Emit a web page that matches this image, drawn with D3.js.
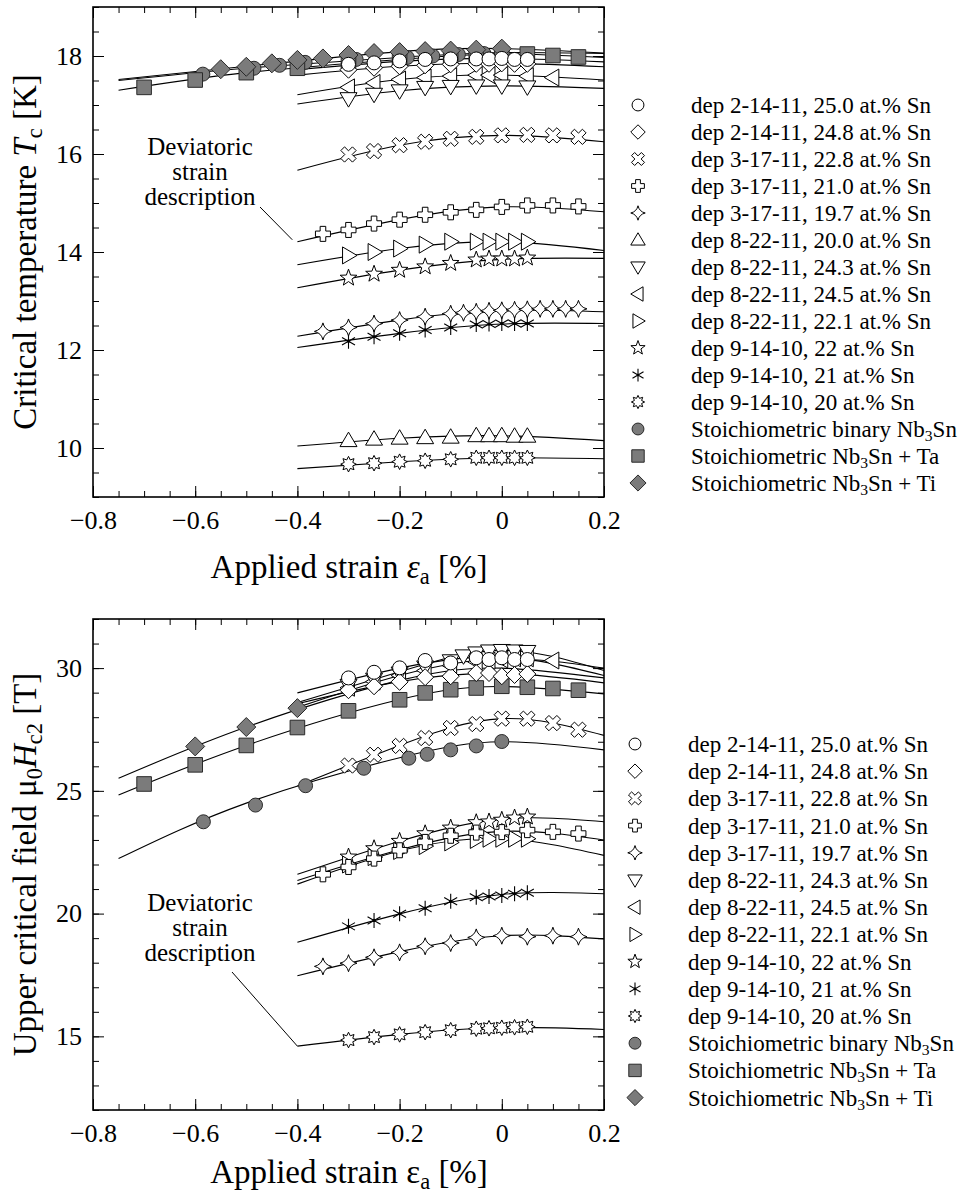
<!DOCTYPE html>
<html>
<head>
<meta charset="utf-8">
<script src="https://cdn.jsdelivr.net/npm/d3@7"></script>
<style>
  body { margin: 0; background: #fff; }
  svg text { font-family: "Liberation Serif", "Times New Roman", serif; fill: #000; }
</style>
</head>
<body>
<div id="chart"></div>
<script>
// ---- tick values ----
var xMajor = [-0.8, -0.6, -0.4, -0.2, 0, 0.2];
var tcMajor = [10, 12, 14, 16, 18];
var hcMajor = [15, 20, 25, 30];

// ---- legend ----
var labels = [
  'dep 2-14-11, 25.0 at.% Sn', 'dep 2-14-11, 24.8 at.% Sn', 'dep 3-17-11, 22.8 at.% Sn',
  'dep 3-17-11, 21.0 at.% Sn', 'dep 3-17-11, 19.7 at.% Sn', 'dep 8-22-11, 20.0 at.% Sn',
  'dep 8-22-11, 24.3 at.% Sn', 'dep 8-22-11, 24.5 at.% Sn', 'dep 8-22-11, 22.1 at.% Sn',
  'dep 9-14-10, 22 at.% Sn', 'dep 9-14-10, 21 at.% Sn', 'dep 9-14-10, 20 at.% Sn',
  'Stoichiometric binary Nb|3|Sn', 'Stoichiometric Nb|3|Sn + Ta', 'Stoichiometric Nb|3|Sn + Ti'
];
var markers = ['circle', 'diamond', 'xcross', 'plus', 'star4', 'triUp', 'triDown', 'triLeft',
  'triRight', 'star5', 'asterisk', 'star8', 'gCircle', 'gSquare', 'gDiamond'];

// ---- strain grids ----
var gridA = [-0.3, -0.25, -0.2, -0.15, -0.1, -0.05, -0.025, 0, 0.025, 0.05];
var gridB = [-0.3, -0.25, -0.2, -0.15, -0.1, -0.05, 0, 0.05, 0.1, 0.15];
var gridC = [-0.35, -0.3, -0.25, -0.2, -0.15, -0.1, -0.05, 0, 0.05, 0.1, 0.15];
var gridD = [-0.35, -0.3, -0.25, -0.2, -0.15, -0.1, -0.075, -0.05, -0.025, 0, 0.025, 0.05, 0.075, 0.1, 0.125, 0.15];
var fitX = [-0.4, -0.2, 0, 0.2];
var fitXs = [-0.75, -0.5, -0.2, 0, 0.2];

// ---- Tc panel (K) ----
var tc250 = [17.83, 17.86, 17.90, 17.93, 17.94, 17.94, 17.94, 17.95, 17.93, 17.93];
var tc248 = [17.72, 17.76, 17.79, 17.81, 17.83, 17.84, 17.84, 17.85, 17.84, 17.84];
var tc228 = [15.99, 16.06, 16.18, 16.25, 16.31, 16.35, 16.38, 16.39, 16.38, 16.35];
var tc210 = [14.37, 14.45, 14.58, 14.66, 14.76, 14.81, 14.86, 14.92, 14.95, 14.95, 14.93];
var tc197 = [12.38, 12.46, 12.54, 12.61, 12.68, 12.74, 12.76, 12.78, 12.80, 12.81, 12.82, 12.83, 12.84, 12.84, 12.84, 12.84];
var tc200 = [10.15, 10.18, 10.20, 10.21, 10.22, 10.25, 10.25, 10.25, 10.24, 10.24];
var tc243x = [-0.3, -0.25, -0.2, -0.15, -0.1, -0.05, 0, 0.05];
var tc243 = [17.13, 17.22, 17.29, 17.36, 17.38, 17.39, 17.39, 17.37];
var tc245x = [-0.3, -0.25, -0.2, -0.15, -0.1, -0.05, -0.025, 0, 0.05, 0.1];
var tc245 = [17.36, 17.45, 17.52, 17.56, 17.59, 17.61, 17.61, 17.61, 17.59, 17.56];
var tc221 = [13.93, 14.00, 14.07, 14.15, 14.21, 14.21, 14.21, 14.21, 14.21, 14.21];
var tc22 = [13.47, 13.55, 13.63, 13.70, 13.77, 13.84, 13.86, 13.86, 13.86, 13.88];
var tc21 = [12.18, 12.27, 12.34, 12.41, 12.46, 12.52, 12.53, 12.54, 12.54, 12.54];
var tc20 = [9.67, 9.69, 9.72, 9.74, 9.77, 9.80, 9.80, 9.80, 9.80, 9.80];
var tcBinX = [-0.585, -0.485, -0.435, -0.385, -0.285, -0.185, -0.135, -0.085, -0.035, 0];
var tcBin = [17.63, 17.75, 17.81, 17.87, 17.93, 17.97, 18.00, 18.03, 18.05, 18.09];
var tcTaX = [-0.7, -0.6, -0.5, -0.4, -0.3, -0.2, -0.1, -0.05, 0, 0.05, 0.1, 0.15];
var tcTa = [17.36, 17.51, 17.66, 17.75, 17.85, 17.93, 17.99, 18.02, 18.04, 18.04, 18.01, 17.98];
var tcTiX = [-0.55, -0.5, -0.45, -0.4, -0.35, -0.3, -0.25, -0.2, -0.15, -0.1, -0.05, 0];
var tcTi = [17.73, 17.78, 17.85, 17.92, 17.95, 18.02, 18.06, 18.08, 18.10, 18.11, 18.13, 18.15];

// fitted deviatoric strain curves (Tc)
var tcFit = [
  [17.72, 17.89, 17.95, 17.88], [17.61, 17.79, 17.85, 17.78], [15.67, 16.18, 16.38, 16.25],
  [14.21, 14.66, 14.92, 14.82], [12.28, 12.61, 12.81, 12.78], [10.04, 10.20, 10.25, 10.15],
  [17.02, 17.29, 17.39, 17.34], [17.21, 17.52, 17.61, 17.51], [13.74, 14.07, 14.21, 14.03],
  [13.27, 13.63, 13.85, 13.87], [12.05, 12.34, 12.53, 12.54], [9.58, 9.72, 9.80, 9.78],
  [17.50, 17.75, 17.97, 18.07, 18.05], [17.30, 17.66, 17.93, 18.04, 17.97], [17.52, 17.79, 18.09, 18.15, 18.06]
];

// ---- Hc2 panel (T) ----
var hc250 = [29.60, 29.83, 30.01, 30.31, 30.21, 30.42, 30.35, 30.42, 30.35, 30.35];
var hc248 = [29.10, 29.26, 29.44, 29.63, 29.67, 29.80, 29.80, 29.67, 29.72, 29.76];
var hc228 = [26.03, 26.47, 26.83, 27.15, 27.56, 27.72, 27.94, 27.94, 27.76, 27.49];
var hc210 = [21.60, 21.90, 22.24, 22.58, 22.92, 23.17, 23.30, 23.32, 23.40, 23.33, 23.26];
var hc197 = [17.85, 17.98, 18.22, 18.42, 18.67, 18.80, 19.03, 19.10, 19.06, 19.10, 19.06];
var hc243x = [-0.3, -0.25, -0.2, -0.15, -0.1, -0.075, -0.05, -0.025, 0, 0.025, 0.05];
var hc243 = [29.30, 29.55, 29.80, 30.05, 30.30, 30.50, 30.62, 30.70, 30.72, 30.70, 30.68];
var hc245x = [-0.3, -0.25, -0.2, -0.15, -0.1, -0.05, -0.025, 0, 0.025, 0.05, 0.1];
var hc245 = [29.20, 29.45, 29.70, 29.90, 30.10, 30.25, 30.30, 30.35, 30.40, 30.40, 30.31];
var hc221 = [22.00, 22.30, 22.55, 22.75, 22.90, 23.00, 23.05, 23.05, 23.05, 23.05];
var hc22 = [22.31, 22.65, 22.95, 23.26, 23.49, 23.71, 23.74, 23.81, 23.90, 23.94];
var hc21 = [19.48, 19.72, 19.99, 20.22, 20.50, 20.67, 20.70, 20.74, 20.81, 20.85];
var hc20 = [14.85, 14.97, 15.08, 15.17, 15.25, 15.31, 15.33, 15.35, 15.37, 15.39];
var hcBinX = [-0.584, -0.482, -0.384, -0.27, -0.182, -0.146, -0.1, -0.05, 0];
var hcBin = [23.74, 24.42, 25.21, 25.92, 26.33, 26.49, 26.67, 26.83, 27.01];
var hcTaX = [-0.7, -0.6, -0.5, -0.4, -0.3, -0.2, -0.15, -0.1, -0.05, 0, 0.05, 0.1, 0.15];
var hcTa = [25.28, 26.06, 26.85, 27.58, 28.26, 28.71, 28.99, 29.12, 29.19, 29.26, 29.22, 29.17, 29.10];
var hcTiX = [-0.6, -0.5, -0.4];
var hcTi = [26.81, 27.60, 28.37];

// fitted deviatoric strain curves (Hc2); index matches legend order
var hcFit = [
  [28.99, 30.00, 30.45, 29.70], [28.55, 29.45, 29.78, 29.40], [25.20, 26.85, 27.94, 27.26],
  [21.35, 22.60, 23.35, 23.00], [17.47, 18.45, 19.10, 18.97], null,
  [28.60, 29.85, 30.72, 29.90], [28.40, 29.70, 30.38, 30.00], [21.20, 22.55, 23.05, 22.37],
  [21.60, 22.95, 23.85, 23.74], [18.83, 19.99, 20.78, 20.81], [14.60, 15.08, 15.36, 15.28],
  [22.24, 24.50, 26.35, 27.00, 26.67], [24.83, 26.85, 28.72, 29.25, 28.95], [25.51, 27.60, 29.50, 30.00, 29.60]
];

var tcX = [gridA, gridA, gridB, gridC, gridD, gridA, tc243x, tc245x, gridA, gridA, gridA, gridA, tcBinX, tcTaX, tcTiX];
var tcY = [tc250, tc248, tc228, tc210, tc197, tc200, tc243, tc245, tc221, tc22, tc21, tc20, tcBin, tcTa, tcTi];
var hcX = [gridA, gridA, gridB, gridC, gridC, null, hc243x, hc245x, gridA, gridA, gridA, gridA, hcBinX, hcTaX, hcTiX];
var hcY = [hc250, hc248, hc228, hc210, hc197, null, hc243, hc245, hc221, hc22, hc21, hc20, hcBin, hcTa, hcTi];

// ---- marker shapes ----
function poly(pts) {
  return 'M' + pts.map(function (p) { return p[0].toFixed(2) + ',' + p[1].toFixed(2); }).join('L') + 'Z';
}
function circ(r) {
  return 'M' + r + ',0A' + r + ',' + r + ' 0 1,1 ' + (-r) + ',0A' + r + ',' + r + ' 0 1,1 ' + r + ',0Z';
}
function starPts(n, ro, ri, rot) {
  var pts = [];
  for (var i = 0; i < 2 * n; i++) {
    var a = rot + i * Math.PI / n;
    var r = i % 2 ? ri : ro;
    pts.push([r * Math.sin(a), -r * Math.cos(a)]);
  }
  return pts;
}
function plusPts(s, a, rot) {
  var p = [[-a, -s], [a, -s], [a, -a], [s, -a], [s, a], [a, a], [a, s], [-a, s], [-a, a], [-s, a], [-s, -a], [-a, -a]];
  var c = Math.cos(rot), sn = Math.sin(rot);
  return p.map(function (q) { return [q[0] * c - q[1] * sn, q[0] * sn + q[1] * c]; });
}
function shape(kind, k) {
  switch (kind) {
    case 'circle': case 'gCircle': return circ(7 * k);
    case 'diamond': var d = 8.5 * k; return poly([[0, -d], [d, 0], [0, d], [-d, 0]]);
    case 'gDiamond': var g = 9.5 * k; return poly([[0, -g], [g, 0], [0, g], [-g, 0]]);
    case 'gSquare': var q = 7.3 * k; return poly([[-q, -q], [q, -q], [q, q], [-q, q]]);
    case 'xcross': return poly(plusPts(8.2 * k, 2.6 * k, Math.PI / 4));
    case 'plus': return poly(plusPts(7.5 * k, 2.8 * k, 0));
    case 'star4':
      var s4 = 8.5 * k, c4 = 1.6 * k;
      return 'M0,' + (-s4) + 'Q' + c4 + ',' + (-c4) + ' ' + s4 + ',0Q' + c4 + ',' + c4 + ' 0,' + s4 +
        'Q' + (-c4) + ',' + c4 + ' ' + (-s4) + ',0Q' + (-c4) + ',' + (-c4) + ' 0,' + (-s4) + 'Z';
    case 'triUp': var t = 8.5 * k; return poly([[0, -t], [t, t * 0.7], [-t, t * 0.7]]);
    case 'triDown': var t2 = 8.5 * k; return poly([[0, t2], [t2, -t2 * 0.7], [-t2, -t2 * 0.7]]);
    case 'triLeft': var t3 = 8.5 * k; return poly([[-t3, 0], [t3 * 0.7, -t3], [t3 * 0.7, t3]]);
    case 'triRight': var t4 = 8.5 * k; return poly([[t4, 0], [-t4 * 0.7, -t4], [-t4 * 0.7, t4]]);
    case 'star5': return poly(starPts(5, 8.8 * k, 3.6 * k, 0));
    case 'star8': return poly(starPts(8, 7.8 * k, 4.6 * k, 0));
    case 'asterisk':
      var r = 7.5 * k, dx = r * Math.sin(Math.PI / 3), dy = r * Math.cos(Math.PI / 3);
      return 'M0,' + (-r) + 'L0,' + r + 'M' + (-dx) + ',' + (-dy) + 'L' + dx + ',' + dy +
        'M' + (-dx) + ',' + dy + 'L' + dx + ',' + (-dy);
  }
}
function drawMarker(g, kind, k) {
  var gray = kind.charAt(0) === 'g';
  var p = g.append('path').attr('d', shape(kind, k));
  if (kind === 'asterisk') {
    p.attr('fill', 'none').attr('stroke', '#000').attr('stroke-width', 1.1);
    g.append('circle').attr('r', 1.6 * k).attr('fill', '#000');
  } else {
    p.attr('fill', gray ? '#7b7b7b' : '#fff')
      .attr('stroke', gray ? '#2a2a2a' : '#000')
      .attr('stroke-width', 1);
  }
}

// rich text with italic / subscript pieces
function richText(sel, parts) {
  parts.forEach(function (p) {
    var t = sel.append('tspan').text(p.t);
    if (p.i) t.attr('font-style', 'italic');
    if (p.sub) t.attr('font-size', '0.68em').attr('dy', p.dy);
    else if (p.dy) t.attr('dy', p.dy);
  });
}

var W = 965, H = 1197;
var svg = d3.select('#chart').append('svg').attr('width', W).attr('height', H);

var x = d3.scaleLinear().domain([-0.8, 0.2]).range([93, 604]);
var fmtX = function (d) { return d === 0 ? '0' : d3.format('.1f')(d); };

function minorTicks(a, b, step) {
  var out = [];
  for (var v = a; v <= b + 1e-9; v += step) out.push(Math.round(v * 1000) / 1000);
  return out;
}

function panel(cfg) {
  var y = d3.scaleLinear().domain(cfg.domain).range([cfg.bottom, cfg.top]);
  var g = svg.append('g');
  var xMinor = minorTicks(-0.8, 0.2, 0.05);
  var yMinor = minorTicks(cfg.domain[0], cfg.domain[1], cfg.minor);

  function axis(gen, scale, vals, size, pos, fmt, pad) {
    var a = gen(scale).tickValues(vals).tickSize(-size).tickPadding(pad || 0);
    a.tickFormat(fmt || function () { return ''; });
    var ag = g.append('g').attr('transform', pos).call(a);
    ag.select('.domain').remove();
    ag.selectAll('line').attr('stroke', '#000').attr('stroke-width', 1);
    ag.selectAll('text').attr('font-size', 26).attr('font-family', '"Liberation Serif", serif');
    return ag;
  }
  var yb = 'translate(0,' + cfg.bottom + ')', yt = 'translate(0,' + cfg.top + ')';
  axis(d3.axisBottom, x, xMinor, 6, yb);
  axis(d3.axisBottom, x, xMajor, 11, yb, fmtX, 14);
  axis(d3.axisTop, x, xMinor, 6, yt);
  axis(d3.axisTop, x, xMajor, 11, yt);
  axis(d3.axisLeft, y, yMinor, 6, 'translate(93,0)');
  axis(d3.axisLeft, y, cfg.major, 11, 'translate(93,0)', d3.format('d'), 11);
  axis(d3.axisRight, y, yMinor, 6, 'translate(604,0)');
  axis(d3.axisRight, y, cfg.major, 11, 'translate(604,0)');

  g.append('rect').attr('x', 93).attr('y', cfg.top).attr('width', 511)
    .attr('height', cfg.bottom - cfg.top).attr('fill', 'none').attr('stroke', '#000').attr('stroke-width', 1.6);

  var clip = 'clip' + cfg.top;
  svg.append('clipPath').attr('id', clip).append('rect')
    .attr('x', 93).attr('y', cfg.top).attr('width', 511).attr('height', cfg.bottom - cfg.top);
  var plot = g.append('g').attr('clip-path', 'url(#' + clip + ')');

  var line = d3.line().x(function (d) { return x(d[0]); }).y(function (d) { return y(d[1]); })
    .curve(d3.curveNatural);
  cfg.fits.forEach(function (f) {
    if (!f) return;
    var xs = f.length === 5 ? fitXs : fitX;
    plot.append('path').attr('d', line(f.map(function (v, j) { return [xs[j], v]; })))
      .attr('fill', 'none').attr('stroke', '#000').attr('stroke-width', 1.1);
  });

  // gray series first, then open series with legend order reversed (first on top)
  var order = [12, 13, 14, 11, 10, 9, 8, 7, 6, 5, 4, 3, 2, 1, 0];
  order.forEach(function (i) {
    if (!cfg.xs[i]) return;
    cfg.xs[i].forEach(function (xv, j) {
      var mg = plot.append('g').attr('transform', 'translate(' + x(xv) + ',' + y(cfg.ys[i][j]) + ')');
      drawMarker(mg, markers[i], 1);
    });
  });

  // annotation
  var ann = g.append('text').attr('text-anchor', 'middle').attr('font-size', 25);
  ['Deviatoric', 'strain', 'description'].forEach(function (s, j) {
    ann.append('tspan').attr('x', 200).attr('y', cfg.annY + j * 25).text(s);
  });
  g.append('line').attr('x1', cfg.lead[0]).attr('y1', cfg.lead[1])
    .attr('x2', x(cfg.lead[2])).attr('y2', y(cfg.lead[3])).attr('stroke', '#000').attr('stroke-width', 1);

  // axis titles
  var xt = g.append('text').attr('x', 349).attr('y', cfg.xTitleY).attr('text-anchor', 'middle').attr('font-size', 33);
  richText(xt, [{ t: 'Applied strain ' }, { t: 'ε', i: cfg.epsItalic }, { t: 'a', sub: true, dy: 6 }, { t: ' [%]', dy: -6 }]);
  var cy = (cfg.top + cfg.bottom) / 2;
  var yt2 = g.append('text').attr('transform', 'translate(36,' + cy + ') rotate(-90)')
    .attr('text-anchor', 'middle').attr('font-size', 33);
  richText(yt2, cfg.yTitle);

  // legend
  var rows = [];
  cfg.xs.forEach(function (v, i) { if (v) rows.push(i); });
  rows.forEach(function (i, r) {
    var ly = cfg.legTop + r * cfg.legStep;
    var lg = svg.append('g').attr('transform', 'translate(' + cfg.legX + ',' + ly + ')');
    drawMarker(lg, markers[i], 0.85);
    var t = svg.append('text').attr('x', cfg.legX + 53).attr('y', ly + 8).attr('font-size', 23);
    var parts = labels[i].split('|');
    if (parts.length === 1) t.text(parts[0]);
    else richText(t, [{ t: parts[0] }, { t: parts[1], sub: true, dy: 4 }, { t: parts[2], dy: -4 }]);
  });
}

panel({
  domain: [9, 19], top: 7, bottom: 497, major: tcMajor, minor: 0.5,
  xs: tcX, ys: tcY, fits: tcFit, annY: 155, lead: [260, 207, -0.41, 14.25],
  xTitleY: 578, epsItalic: true,
  yTitle: [{ t: 'Critical temperature ' }, { t: 'T', i: true }, { t: 'c', sub: true, dy: 6 }, { t: ' [K]', dy: -6 }],
  legX: 638, legTop: 105, legStep: 27
});
panel({
  domain: [12, 32], top: 619, bottom: 1110, major: hcMajor, minor: 1,
  xs: hcX, ys: hcY, fits: hcFit, annY: 911, lead: [232, 972, -0.4, 14.6],
  xTitleY: 1183, epsItalic: false,
  yTitle: [{ t: 'Upper critical field μ' }, { t: '0', sub: true, dy: 6 }, { t: 'H', i: true, dy: -6 },
    { t: 'c2', sub: true, dy: 6 }, { t: ' [T]', dy: -6 }],
  legX: 635, legTop: 744, legStep: 27.2
});
</script>
</body>
</html>
